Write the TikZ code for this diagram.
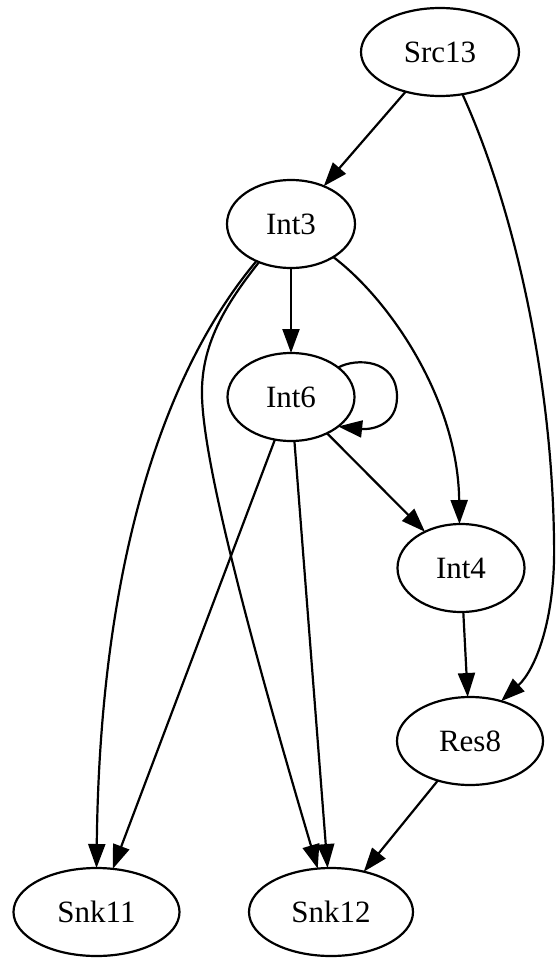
\documentclass[tikz,border=0pt]{standalone}
\usepackage{fontspec}
\setmainfont{Liberation Serif}
\usetikzlibrary{arrows.meta,shapes.geometric}
\begin{document}
\begin{tikzpicture}[x=1pt,y=-1pt,
  gnode/.style={draw, ellipse, line width=2.2pt, inner sep=0pt, outer sep=0pt,
    minimum height=88pt, font=\fontsize{31}{37}\selectfont},
  gedge/.style={draw, line width=2.2pt, -{Triangle[length=24pt,width=17pt]}}]
\useasboundingbox (0,0) rectangle (556,958);
\node[gnode, minimum width=158pt] (Src13) at (440,52) {Src13};
\node[gnode, minimum width=128pt] (Int3) at (291,224) {Int3};
\node[gnode, minimum width=127pt] (Int6) at (291,397) {Int6};
\node[gnode, minimum width=127pt] (Int4) at (461,568) {Int4};
\node[gnode, minimum width=146pt] (Res8) at (470,741) {Res8};
\node[gnode, minimum width=166pt] (Snk11) at (96.5,912) {Snk11};
\node[gnode, minimum width=164pt] (Snk12) at (331,912) {Snk12};
\draw[gedge] (Src13) -- (Int3);
\draw[gedge] (Src13.-62) .. controls (515,210) and (552,380) .. (554,540)
  .. controls (556,620) and (535,670) .. (Res8.52);
\draw[gedge] (Int3) -- (Int6);
\draw[gedge] (Int3.-38) .. controls (390,300) and (458,400) .. (Int4.92);
\draw[gedge] (Int3.-133) .. controls (165,370) and (100,560) .. (Snk11.90);
\draw[gedge] (Int3.-130) .. controls (225,305) and (201,345) .. (202,395)
  .. controls (203,470) and (262,680) .. (Snk12.107);
\draw[gedge] (Int6.32) .. controls (355,358) and (397,358) .. (397,397)
  .. controls (397,425) and (372,430) .. (Int6.-32);
\draw[gedge] (Int6) -- (Int4);
\draw[gedge] (Int6) -- (Snk11);
\draw[gedge] (Int6) -- (Snk12);
\draw[gedge] (Int4) -- (Res8);
\draw[gedge] (Res8) -- (Snk12);
\end{tikzpicture}
\end{document}
